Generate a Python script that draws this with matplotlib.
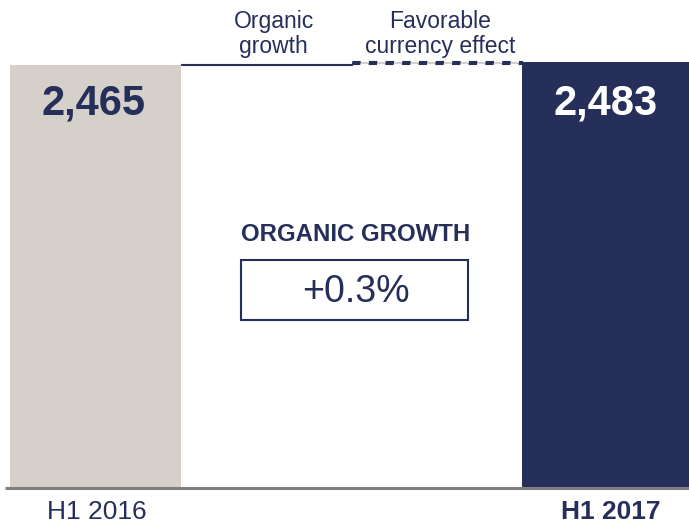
import matplotlib
matplotlib.use("Agg")
import matplotlib.pyplot as plt
from matplotlib.patches import Rectangle

plt.rcParams['font.family'] = ['Liberation Sans', 'DejaVu Sans']

categories = ["H1 2016", "Organic\ngrowth", "Favorable\ncurrency effect", "H1 2017"]
start_value = 2465
organic = 7
currency = 11
end_value = 2483
value_labels = ["2,465", "2,483"]
organic_growth_label = "+0.3%"

NAVY = "#262E5A"
GREY = "#D5D1CA"

fig = plt.figure(figsize=(6.89, 5.23), dpi=100)
ax = fig.add_axes([10/689, 35/523, 683/689, 488/523])
ax.set_xlim(-0.5, 3.5)
ax.set_ylim(0, 2844)
ax.axis('off')

ax.bar(0, start_value, width=1.0, color=GREY, linewidth=0)
ax.bar(1, organic, bottom=start_value, width=1.0, color=NAVY, linewidth=0.8, edgecolor=NAVY)
ax.bar(2, currency, bottom=start_value + organic, width=1.0, color=GREY,
       edgecolor=NAVY, linewidth=1.5, linestyle=(0, (4, 4)))
ax.bar(3, end_value, width=1.0, color=NAVY, linewidth=0)

ax.plot([-0.53, 3.5], [0, 0], color="#7F7F7F", lw=2.2, clip_on=False,
        solid_capstyle='butt')

ax.text(-0.01, 2240, value_labels[0], ha='center', va='center', fontsize=30,
        fontweight='bold', color=NAVY)
ax.text(2.99, 2240, value_labels[1], ha='center', va='center', fontsize=30,
        fontweight='bold', color='white')

ax.text(1.045, 2645, categories[1], ha='center', va='center', fontsize=16.5,
        color=NAVY, linespacing=1.1, clip_on=False)
ax.text(2.02, 2645, categories[2], ha='center', va='center', fontsize=16.5,
        color=NAVY, linespacing=1.1, clip_on=False)

ax.text(0.01, -140, categories[0], ha='center', va='center', fontsize=19,
        color=NAVY, clip_on=False)
ax.text(3.02, -140, categories[3], ha='center', va='center', fontsize=19,
        fontweight='bold', color=NAVY, clip_on=False)

ax.text(1.525, 1475, "ORGANIC GROWTH", ha='center', va='center', fontsize=17.3,
        fontweight='bold', color=NAVY)
box = Rectangle((0.853, 980), 1.33, 350, fill=False, edgecolor=NAVY, lw=1.5)
ax.add_patch(box)
ax.text(1.525, 1140, organic_growth_label, ha='center', va='center',
        fontsize=27, color=NAVY)

fig.savefig("out.png", dpi=100)
